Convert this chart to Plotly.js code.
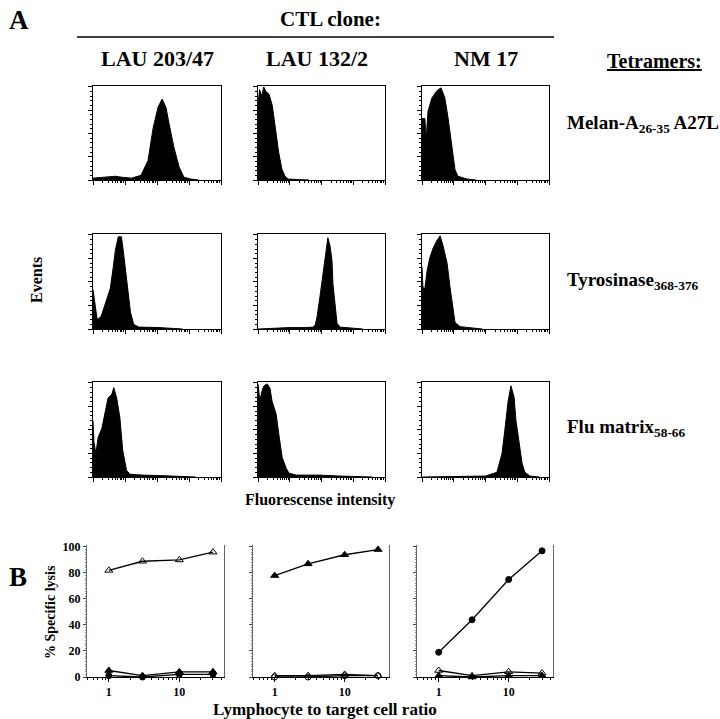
<!DOCTYPE html>
<html>
<head>
<meta charset="utf-8">
<script src="https://cdn.plot.ly/plotly-3.0.1.min.js"></script>
<style>
  html, body { margin: 0; padding: 0; background: #fff; }
  #fig { width: 720px; height: 719px; }
</style>
</head>
<body>
<div id="fig"></div>
<script>
// ---- histogram outlines (x = log decade of fluorescence, y = % of max events)
// row 1: Melan-A tetramer
const h203_mel_d = [0, 0.3, 0.55, 0.7, 0.9, 1.2, 1.5, 1.72, 1.88, 2.03, 2.16, 2.28, 2.38, 2.53, 2.69, 2.84, 3.06, 3.3];
const h203_mel_y = [2, 3, 4, 4, 3, 2, 5, 21, 56, 78, 87, 78, 60, 35, 14, 3, 1, 0];
const h132_mel_d = [0, 0.05, 0.12, 0.18, 0.25, 0.35, 0.45, 0.55, 0.65, 0.75, 0.85, 0.95, 1.2, 1.6];
const h132_mel_y = [80, 97, 90, 100, 95, 92, 80, 55, 30, 12, 4, 1, 0.5, 0];
const hnm_mel_d = [0, 0.09, 0.13, 0.19, 0.31, 0.47, 0.6, 0.72, 0.82, 0.94, 1.04, 1.13, 1.42, 1.7];
const hnm_mel_y = [66, 66, 43, 74, 88, 96, 99, 88, 67, 39, 11, 4, 1, 0];
// row 2: tyrosinase tetramer
const h203_tyr_d = [0, 0.06, 0.13, 0.25, 0.41, 0.54, 0.63, 0.70, 0.79, 0.89, 0.95, 1.05, 1.17, 1.27, 1.43, 2.06, 2.48, 2.8];
const h203_tyr_y = [42, 24, 10, 13, 29, 43, 65, 84, 98, 98, 82, 54, 18, 5, 2, 1.5, 0.5, 0];
const h132_tyr_d = [0, 0.47, 1.0, 1.48, 1.73, 1.8, 1.86, 1.95, 2.05, 2.11, 2.17, 2.2, 2.27, 2.33, 2.36, 2.43, 2.49, 2.58, 3.05, 3.3];
const h132_tyr_y = [0, 1, 1.5, 1.5, 2, 4, 13, 34, 59, 76, 90, 97, 88, 73, 48, 23, 6, 2, 1, 0];
const hnm_tyr_d = [0, 0.03, 0.09, 0.16, 0.25, 0.35, 0.47, 0.57, 0.66, 0.79, 0.88, 0.98, 1.04, 1.2, 1.6, 1.9];
const hnm_tyr_y = [66, 44, 43, 62, 76, 86, 94, 99, 89, 70, 45, 23, 7, 2.5, 1, 0];
// row 3: flu matrix tetramer
const h203_flu_d = [0, 0.03, 0.09, 0.16, 0.28, 0.37, 0.47, 0.59, 0.65, 0.74, 0.84, 0.93, 1.05, 1.15, 1.55, 2.08, 2.91, 3.2];
const h203_flu_y = [60, 37, 25, 42, 52, 67, 84, 88, 95, 84, 63, 28, 7, 3, 2, 1.5, 0.5, 0];
const h132_flu_d = [0, 0.06, 0.13, 0.19, 0.29, 0.38, 0.44, 0.57, 0.67, 0.76, 0.89, 0.98, 1.21, 1.94, 2.57, 3.3, 3.6];
const h132_flu_y = [99, 81, 92, 97, 99, 94, 81, 67, 42, 21, 9, 4, 2, 2, 1, 0.5, 0];
const hnm_flu_d = [0, 1.0, 2.0, 2.36, 2.52, 2.61, 2.71, 2.8, 2.9, 2.96, 3.06, 3.15, 3.24, 3.4, 3.7];
const hnm_flu_y = [0, 0.5, 1, 5, 25, 50, 80, 97, 85, 60, 35, 15, 5, 1, 0];

const clones = ['LAU 203/47', 'LAU 132/2', 'NM 17'];
const tetramers = ['Melan-A<sub>26-35</sub> A27L', 'Tyrosinase<sub>368-376</sub>', 'Flu matrix<sub>58-66</sub>'];

// ---- cytotoxicity (% specific lysis vs E:T ratio)
const ratio = [1, 3, 10, 30];
const lys203_mel = [82, 89, 90, 96];
const lys203_tyr = [5, 1, 4, 4];
const lys203_flu = [1, 0, 2, 2];
const lys132_mel = [1, 1, 2, 1];
const lys132_tyr = [78, 87, 94, 98];
const lys132_flu = [0, 0, 1, 1];
const lysnm_mel = [5, 1, 4, 3];
const lysnm_tyr = [1, 0, 1, 1];
const lysnm_flu = [19, 44, 75, 97];

// ---- layout helpers (pixels -> paper)
const W = 720, H = 719;
const SERIF = 'Liberation Serif, Times New Roman, serif';
const xd = (a, b) => [a / W, b / W];
const yd = (top, bot) => [1 - bot / H, 1 - top / H];
const px = v => v / W;
const py = v => 1 - v / H;
const sfx = i => (i === 1 ? '' : String(i));

const colPx = [[93, 221], [258, 385], [422, 549]];
const rowPx = [[86, 180], [234, 329], [382, 477]];
const lysPx = [[87, 224], [253, 389], [417, 553]];

const histos = [
  [[h203_mel_d, h203_mel_y], [h132_mel_d, h132_mel_y], [hnm_mel_d, hnm_mel_y]],
  [[h203_tyr_d, h203_tyr_y], [h132_tyr_d, h132_tyr_y], [hnm_tyr_d, hnm_tyr_y]],
  [[h203_flu_d, h203_flu_y], [h132_flu_d, h132_flu_y], [hnm_flu_d, hnm_flu_y]]
];

// minor decade ticks (log10 of 2..9 in each decade)
const minorDec = [];
for (let dec = 0; dec < 4; dec++) {
  for (let k = 2; k <= 9; k++) minorDec.push(dec + Math.log10(k));
}

const data = [];
const layout = {
  width: W, height: H,
  margin: { l: 0, r: 0, t: 0, b: 0 },
  paper_bgcolor: 'white', plot_bgcolor: 'white',
  showlegend: false,
  font: { family: SERIF, color: 'black' },
  annotations: [],
  shapes: []
};

let idx = 1;
for (let r = 0; r < 3; r++) {
  for (let c = 0; c < 3; c++) {
    const [d, y] = histos[r][c];
    data.push({
      x: d, y: y, type: 'scatter', mode: 'lines',
      fill: 'tozeroy', fillcolor: 'black',
      line: { color: 'black', width: 1 },
      xaxis: 'x' + sfx(idx), yaxis: 'y' + sfx(idx), hoverinfo: 'skip'
    });
    layout['xaxis' + sfx(idx)] = {
      domain: xd(colPx[c][0], colPx[c][1]), anchor: 'y' + sfx(idx),
      range: [0, 4], showgrid: false, zeroline: false,
      showline: true, mirror: true, linecolor: 'black', linewidth: 1,
      ticks: 'outside', tickvals: [0, 1, 2, 3, 4], ticklen: 4, tickcolor: 'black',
      minor: { tickvals: minorDec, ticks: 'outside', ticklen: 2, tickcolor: 'black' },
      showticklabels: false, fixedrange: true
    };
    layout['yaxis' + sfx(idx)] = {
      domain: yd(rowPx[r][0], rowPx[r][1]), anchor: 'x' + sfx(idx),
      range: [0, 101], showgrid: false, zeroline: false,
      showline: true, mirror: true, linecolor: 'black', linewidth: 1,
      ticks: 'outside', dtick: 25, ticklen: 4, tickcolor: 'black',
      minor: { dtick: 5, ticks: 'outside', ticklen: 2, tickcolor: 'black' },
      showticklabels: false, fixedrange: true
    };
    idx++;
  }
}

// lysis panels
const lysSets = [
  [lys203_mel, lys203_tyr, lys203_flu],
  [lys132_mel, lys132_tyr, lys132_flu],
  [lysnm_mel, lysnm_tyr, lysnm_flu]
];
const symbols = [
  ['triangle-up-open', 'triangle-up', 'circle'],
  ['triangle-up-open', 'triangle-up', 'circle-open'],
  ['triangle-up-open', 'triangle-up', 'circle']
];
const lysMinor = [0.5, 0.6, 0.7, 0.8, 0.9, 2, 3, 4, 5, 6, 7, 8, 9, 20, 30, 40];
for (let p = 0; p < 3; p++) {
  const s = sfx(idx);
  for (let k = 0; k < 3; k++) {
    data.push({
      x: ratio, y: lysSets[p][k], type: 'scatter', mode: 'lines+markers',
      line: { color: 'black', width: 1.3 },
      marker: { symbol: symbols[p][k], size: symbols[p][k].startsWith('triangle') ? 7 : 6,
                color: 'black', line: { color: 'black', width: 1 } },
      xaxis: 'x' + s, yaxis: 'y' + s, hoverinfo: 'skip', cliponaxis: false
    });
  }
  layout['xaxis' + s] = {
    domain: xd(lysPx[p][0], lysPx[p][1]), anchor: 'y' + s,
    type: 'log', range: [Math.log10(0.49), Math.log10(43)],
    showgrid: false, zeroline: false, showline: true, linecolor: 'black', linewidth: 1,
    ticks: 'outside', tickvals: [1, 10], ticktext: ['1', '10'], ticklen: 4, tickcolor: 'black',
    minor: { tickvals: lysMinor, ticks: 'outside', ticklen: 2, tickcolor: 'black' },
    tickfont: { family: SERIF, size: 12, weight: 'bold' }, fixedrange: true
  };
  layout['yaxis' + s] = {
    domain: yd(545, 677), anchor: 'x' + s,
    range: [0, 101.5], showgrid: false, zeroline: false,
    showline: true, mirror: true, linecolor: '#666', linewidth: 1,
    ticks: 'outside', tickvals: [0, 20, 40, 60, 80, 100], ticklen: 3, tickcolor: '#444',
    minor: { dtick: 2, ticks: 'outside', ticklen: 1.5, tickcolor: '#888' },
    showticklabels: p === 0,
    tickfont: { family: SERIF, size: 12, weight: 'bold' }, fixedrange: true
  };
  idx++;
}

// text
const ann = (text, x, y, size, opts) => Object.assign({
  text, x: px(x), y: py(y), xref: 'paper', yref: 'paper', showarrow: false,
  xanchor: 'center', yanchor: 'middle',
  font: { family: SERIF, size, color: 'black', weight: 'bold' }
}, opts || {});

layout.annotations.push(
  ann('A', 7, 20, 27, { xanchor: 'left' }),
  ann('CTL clone:', 330, 19, 21),
  ann(clones[0], 157, 58, 22),
  ann(clones[1], 317, 58, 22),
  ann(clones[2], 486, 58, 22),
  ann('<u>Tetramers:</u>', 654, 61, 20),
  ann(tetramers[0], 565, 124, 19, { xanchor: 'left' }),
  ann(tetramers[1], 565, 281, 19, { xanchor: 'left' }),
  ann(tetramers[2], 565, 428, 19, { xanchor: 'left' }),
  ann('Events', 37, 280, 16, { textangle: -90 }),
  ann('Fluorescense intensity', 320, 500, 16),
  ann('B', 7, 577, 27, { xanchor: 'left' }),
  ann('% Specific lysis', 50, 612, 14, { textangle: -90 }),
  ann('Lymphocyte to target cell ratio', 325, 709, 17)
);

layout.shapes.push({
  type: 'line', xref: 'paper', yref: 'paper',
  x0: px(77), x1: px(554), y0: py(37), y1: py(37),
  line: { color: 'black', width: 1.5 }
});

Plotly.newPlot('fig', data, layout, { staticPlot: true, displayModeBar: false });
</script>
</body>
</html>
